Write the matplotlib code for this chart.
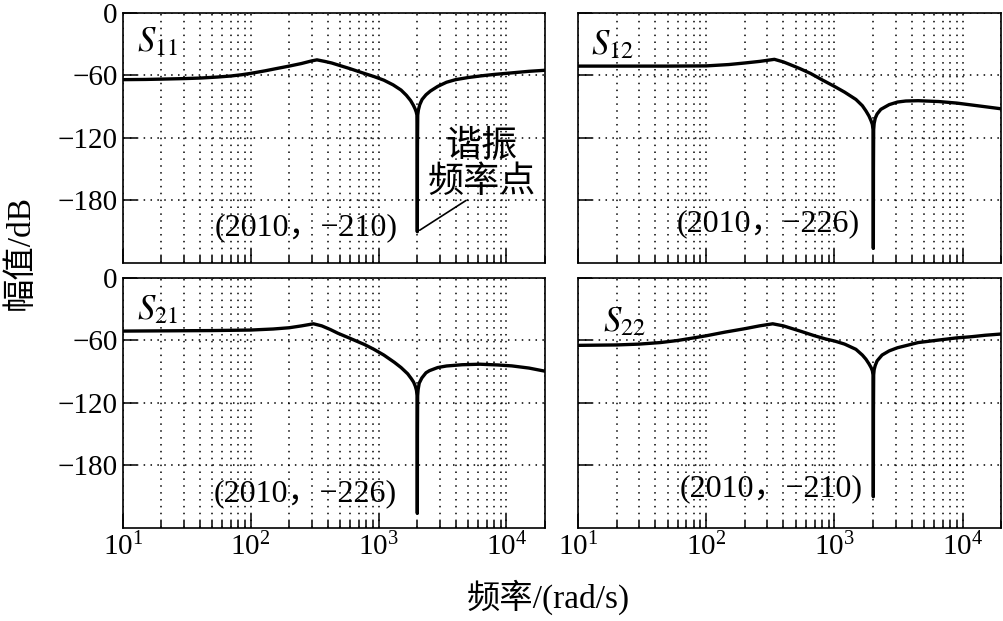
import matplotlib
matplotlib.use("Agg")
import matplotlib.pyplot as plt

plt.rcParams["font.family"] = ["Liberation Serif", "Noto Sans CJK SC"]
plt.rcParams["mathtext.fontset"] = "stix"
plt.rcParams["axes.unicode_minus"] = True

# frequency (rad/s) and magnitude (dB)
w11 = [10, 15, 20, 30, 40, 55, 70, 85, 100, 130, 160, 200, 250, 300, 330, 380, 430,
       500, 600, 750, 920, 1100, 1300, 1500, 1650, 1780, 1870, 1930, 1970, 1995,
       2006, 2010, 2014, 2025, 2050, 2100, 2190, 2350, 2540, 2900, 3400, 4000,
       5000, 6200, 8000, 11000, 15000, 20000]
s11 = [-64, -63.8, -63.5, -63, -62.5, -61.5, -60.5, -59.3, -58, -55.5, -53.3, -51,
       -48.5, -46, -45, -46.5, -48, -50.5, -53.5, -57.5, -61, -64.5, -69, -74, -79,
       -84, -88.5, -92, -95, -98, -130, -210, -130, -98, -93, -88, -83, -78.5, -75,
       -70.5, -66.5, -64, -62, -60.5, -59, -57.5, -56, -55]

w12 = [10, 50, 100, 150, 200, 260, 340, 400, 450, 540, 650, 810, 1000, 1200, 1470,
       1650, 1760, 1860, 1930, 1975, 1998, 2006, 2010, 2014, 2022, 2040, 2080, 2150,
       2300, 2670, 3100, 3600, 4500, 6500, 9000, 11700, 15000, 20000]
s12 = [-51, -51, -50.8, -49.5, -48, -46.5, -44.5, -47, -49.5, -53.5, -58, -64.5,
       -70.5, -76, -83, -89, -94, -99, -103.5, -107, -112, -150, -226, -150, -112,
       -106, -101, -97, -92.5, -88, -85.5, -84.5, -84.2, -85, -86.5, -88.3, -90, -92]

w21 = [10, 50, 100, 150, 200, 250, 310, 360, 420, 480, 600, 780, 920, 1100, 1330,
       1500, 1690, 1800, 1880, 1940, 1980, 2000, 2006, 2010, 2014, 2022, 2040, 2080,
       2180, 2350, 2500, 2900, 3400, 4500, 6200, 8500, 11000, 15000, 20000]
s21 = [-51, -50.5, -50, -49, -47.8, -46, -44, -46, -49.5, -53, -58, -64, -68.5, -74,
       -81, -86, -92, -96.5, -100, -104, -108, -113, -150, -226, -150, -113, -107,
       -101, -96, -91, -89, -86, -84.5, -83.3, -82.8, -83.5, -84.4, -86.5, -89.5]

w22 = [10, 20, 30, 44, 60, 80, 100, 140, 200, 260, 330, 400, 540, 700, 850, 1000,
       1200, 1470, 1650, 1760, 1860, 1930, 1975, 1998, 2006, 2010, 2014, 2022, 2040,
       2080, 2150, 2350, 2670, 3100, 3600, 4500, 6500, 9000, 11700, 15000, 20000]
s22 = [-64.7, -64.3, -63.5, -62, -60, -57.5, -55.5, -52, -48.7, -46, -44, -46, -51,
       -55.5, -58.5, -60.5, -63.5, -68.5, -74, -78, -82.5, -86, -89, -93, -130, -210,
       -130, -93, -88, -84, -79.6, -74, -70, -67, -65, -62, -59.6, -57.5, -56.4, -55,
       -53.8]

names = [r"$S_{11}$", r"$S_{12}$", r"$S_{21}$", r"$S_{22}$"]
notes = ["(2010\uff0c\u2212210)", "(2010\uff0c\u2212226)",
         "(2010\uff0c\u2212226)", "(2010\uff0c\u2212210)"]
note_pos = [(270, -206), (302, -202), (266, -207), (322, -202)]
name_pos = [(0.035, 0.88), (0.03, 0.87), (0.035, 0.87), (0.06, 0.82)]
yticks = [0, -60, -120, -180]

series = [(w11, s11), (w12, s12), (w21, s21), (w22, s22)]

fig = plt.figure(figsize=(10.04, 6.21), dpi=100)
rects = [[0.1222, 0.5765, 0.4206, 0.4026], [0.5757, 0.5765, 0.4216, 0.4026],
         [0.1222, 0.1498, 0.4206, 0.4026], [0.5757, 0.1498, 0.4216, 0.4026]]

for i, (w, s) in enumerate(series):
    ax = fig.add_axes(rects[i])
    ax.semilogx(w, s, color="black", lw=2.4)
    ax.set_xlim(10, 2e4)
    ax.set_ylim(-240, 0)
    ax.set_yticks(yticks)
    ax.grid(True, which="both", axis="x", color="black", ls=(0, (1, 3.5)), lw=1.1)
    ax.grid(True, which="major", axis="y", color="black", ls=(0, (1, 3.5)), lw=1.1)
    ax.tick_params(which="major", direction="in", length=10, width=1.1,
                   labelsize=21, top=False, right=False)
    ax.tick_params(which="minor", direction="in", length=5, width=1.1,
                   top=False, right=False)
    for sp in ax.spines.values():
        sp.set_linewidth(1.2)
    if i < 2:
        ax.tick_params(labelbottom=False)
    if i % 2 == 1:
        ax.tick_params(labelleft=False)
    ax.text(name_pos[i][0], name_pos[i][1], names[i], transform=ax.transAxes,
            fontsize=25, ha="left", va="center")
    ax.text(note_pos[i][0], note_pos[i][1], notes[i], fontsize=23,
            ha="center", va="center")
    if i == 0:
        ax.annotate("", xy=(2010, -210), xytext=(5040, -178.5),
                    arrowprops=dict(arrowstyle="-", color="black", lw=1.2))
        ax.text(6440, -145, "谐振\n频率点", fontsize=26, ha="center", va="center",
                linespacing=1.0, family=["Noto Sans CJK SC"])

fig.text(0.02, 1 - 252 / 621, "幅值/dB", rotation=90, fontsize=24,
         ha="center", va="center")
fig.text(548 / 1004, 1 - 597 / 621, "频率/(rad/s)", fontsize=24,
         ha="center", va="center")

fig.savefig("out.png", dpi=100)
